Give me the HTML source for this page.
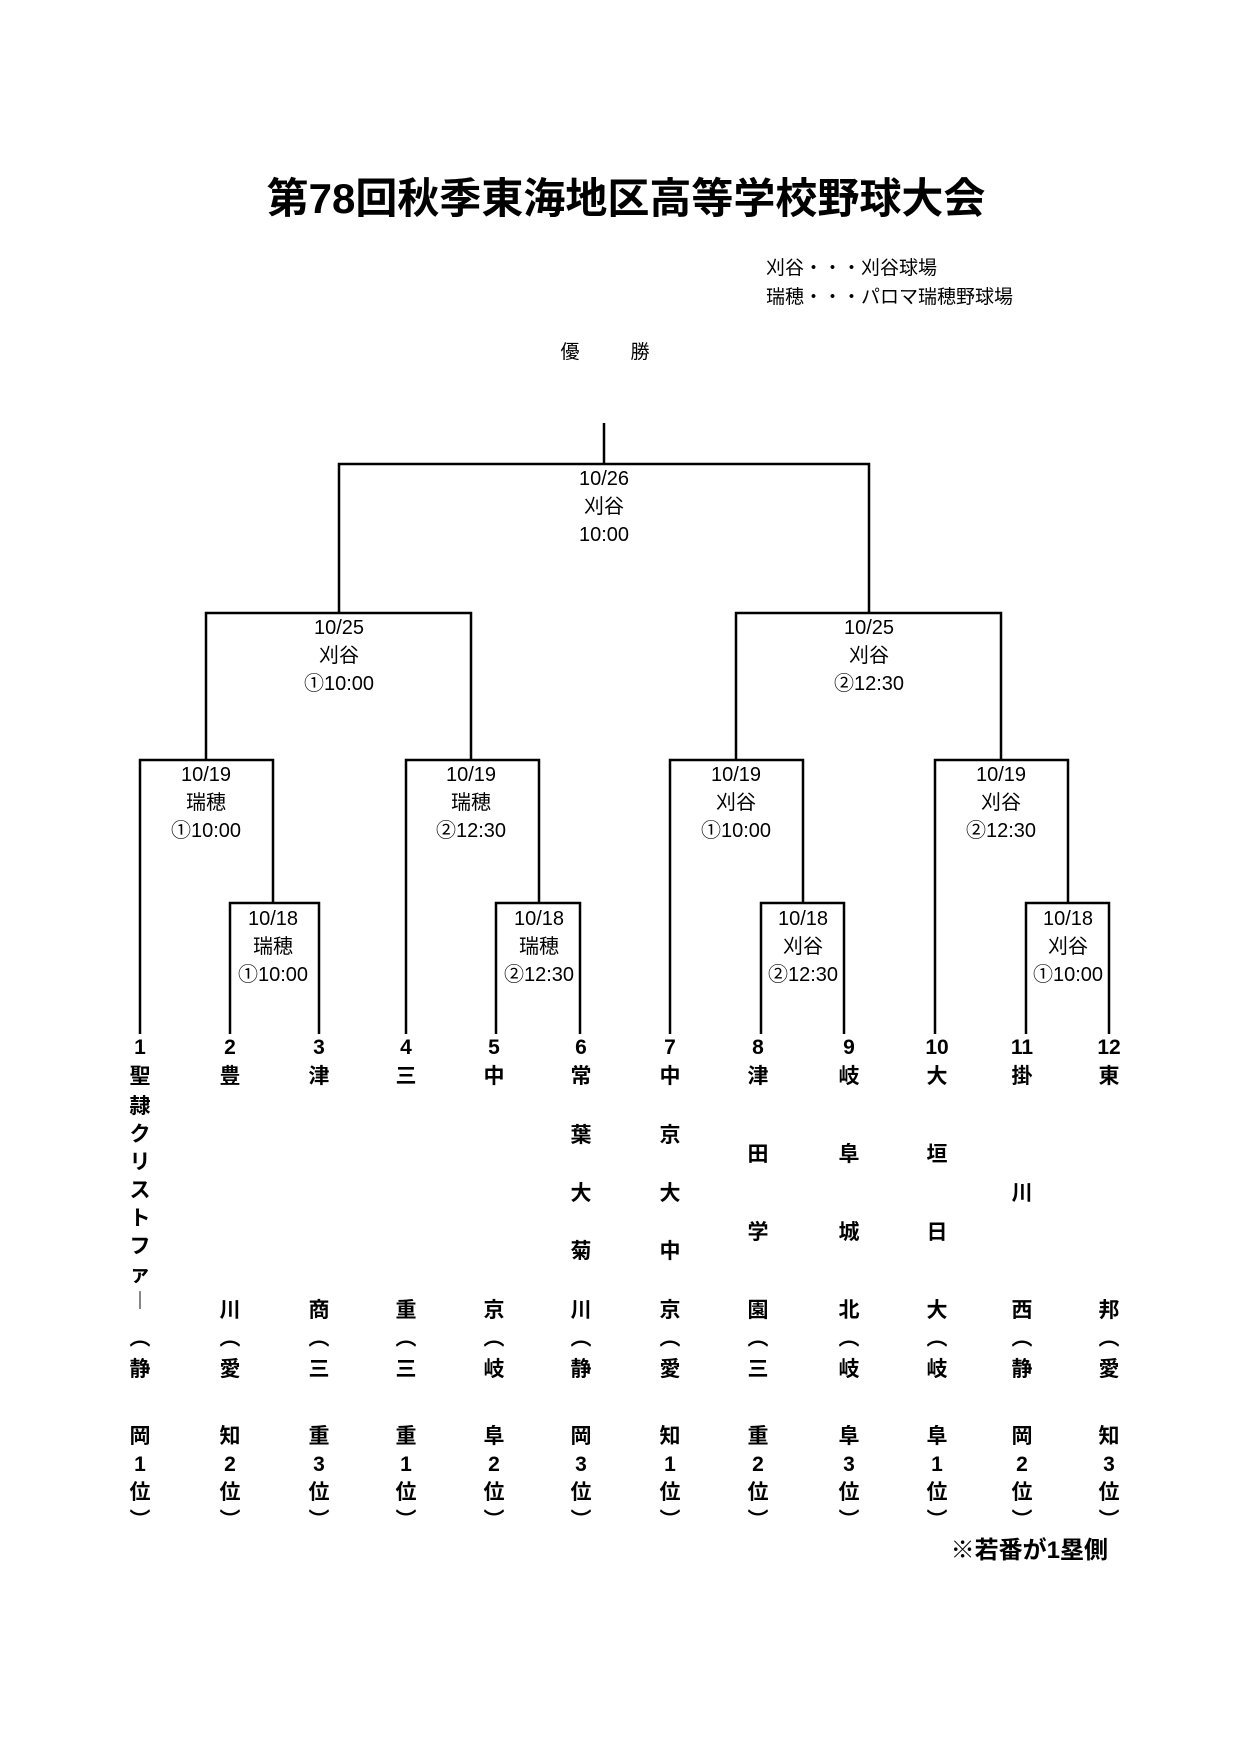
<!DOCTYPE html>
<html><head><meta charset="utf-8">
<style>
body{margin:0;background:#fff;}
#p{position:relative;width:1241px;height:1755px;overflow:hidden;font-family:"Liberation Sans","Noto Sans CJK JP",sans-serif;color:#000;}
.c{position:absolute;width:120px;margin-left:-60px;text-align:center;line-height:26px;height:26px;margin-top:-13px;font-size:20px;white-space:nowrap;}
.b{font-weight:bold;font-size:21px;}
svg{position:absolute;left:0;top:0;}
</style></head><body><div id="p">
<svg width="1241" height="1755" fill="none" stroke="#000" stroke-width="2.5">
<path d="M604 423V464M339 613V464H869V613"/>
<path d="M206 760V613H471V760M736 760V613H1001V760"/>
<path d="M140 1034V760H273V903M406 1034V760H539V903M670 1034V760H803V903M935 1034V760H1068V903"/>
<path d="M230 1034V903H319V1034M496 1034V903H580V1034M761 1034V903H844V1034M1026 1034V903H1109V1034"/>
</svg>
<div class="c" style="left:626px;top:199px;font-size:42px;font-weight:bold;line-height:50px;height:50px;margin-top:-25px;width:900px;margin-left:-450px">第78回秋季東海地区高等学校野球大会</div>
<div style="position:absolute;left:766px;top:254px;font-size:19px;line-height:29px">刈谷・・・刈谷球場<br>瑞穂・・・パロマ瑞穂野球場</div>
<div class="c" style="left:570px;top:353px;font-size:19px">優</div>
<div class="c" style="left:640px;top:353px;font-size:19px">勝</div>

<div class="c" style="left:604px;top:479px">10/26</div><div class="c" style="left:604px;top:507px">刈谷</div><div class="c" style="left:604px;top:535px">10:00</div>
<div class="c" style="left:339px;top:628px">10/25</div><div class="c" style="left:339px;top:656px">刈谷</div><div class="c" style="left:339px;top:684px">①10:00</div>
<div class="c" style="left:869px;top:628px">10/25</div><div class="c" style="left:869px;top:656px">刈谷</div><div class="c" style="left:869px;top:684px">②12:30</div>
<div class="c" style="left:206px;top:775px">10/19</div><div class="c" style="left:206px;top:803px">瑞穂</div><div class="c" style="left:206px;top:831px">①10:00</div>
<div class="c" style="left:471px;top:775px">10/19</div><div class="c" style="left:471px;top:803px">瑞穂</div><div class="c" style="left:471px;top:831px">②12:30</div>
<div class="c" style="left:736px;top:775px">10/19</div><div class="c" style="left:736px;top:803px">刈谷</div><div class="c" style="left:736px;top:831px">①10:00</div>
<div class="c" style="left:1001px;top:775px">10/19</div><div class="c" style="left:1001px;top:803px">刈谷</div><div class="c" style="left:1001px;top:831px">②12:30</div>
<div class="c" style="left:273px;top:919px">10/18</div><div class="c" style="left:273px;top:947px">瑞穂</div><div class="c" style="left:273px;top:975px">①10:00</div>
<div class="c" style="left:539px;top:919px">10/18</div><div class="c" style="left:539px;top:947px">瑞穂</div><div class="c" style="left:539px;top:975px">②12:30</div>
<div class="c" style="left:803px;top:919px">10/18</div><div class="c" style="left:803px;top:947px">刈谷</div><div class="c" style="left:803px;top:975px">②12:30</div>
<div class="c" style="left:1068px;top:919px">10/18</div><div class="c" style="left:1068px;top:947px">刈谷</div><div class="c" style="left:1068px;top:975px">①10:00</div>

<div class="c b" style="left:140px;top:1048px">1</div><div class="c b" style="left:230px;top:1048px">2</div><div class="c b" style="left:319px;top:1048px">3</div><div class="c b" style="left:406px;top:1048px">4</div><div class="c b" style="left:494px;top:1048px">5</div><div class="c b" style="left:581px;top:1048px">6</div><div class="c b" style="left:670px;top:1048px">7</div><div class="c b" style="left:758px;top:1048px">8</div><div class="c b" style="left:849px;top:1048px">9</div><div class="c b" style="left:937px;top:1048px">10</div><div class="c b" style="left:1022px;top:1048px">11</div><div class="c b" style="left:1109px;top:1048px">12</div>

<div class="c b" style="left:140px;top:1077px">聖</div><div class="c b" style="left:140px;top:1107px">隷</div><div class="c b" style="left:140px;top:1135px">ク</div><div class="c b" style="left:140px;top:1163px">リ</div><div class="c b" style="left:140px;top:1191px">ス</div><div class="c b" style="left:140px;top:1219px">ト</div><div class="c b" style="left:140px;top:1247px">フ</div><div class="c b" style="left:140px;top:1275px">ァ</div><div class="c b" style="left:140px;top:1302px">︱</div>
<div class="c b" style="left:230px;top:1077px">豊</div><div class="c b" style="left:230px;top:1311px">川</div>
<div class="c b" style="left:319px;top:1077px">津</div><div class="c b" style="left:319px;top:1311px">商</div>
<div class="c b" style="left:406px;top:1077px">三</div><div class="c b" style="left:406px;top:1311px">重</div>
<div class="c b" style="left:494px;top:1077px">中</div><div class="c b" style="left:494px;top:1311px">京</div>
<div class="c b" style="left:581px;top:1077px">常</div><div class="c b" style="left:581px;top:1136px">葉</div><div class="c b" style="left:581px;top:1194px">大</div><div class="c b" style="left:581px;top:1252px">菊</div><div class="c b" style="left:581px;top:1311px">川</div>
<div class="c b" style="left:670px;top:1077px">中</div><div class="c b" style="left:670px;top:1136px">京</div><div class="c b" style="left:670px;top:1194px">大</div><div class="c b" style="left:670px;top:1252px">中</div><div class="c b" style="left:670px;top:1311px">京</div>
<div class="c b" style="left:758px;top:1077px">津</div><div class="c b" style="left:758px;top:1155px">田</div><div class="c b" style="left:758px;top:1233px">学</div><div class="c b" style="left:758px;top:1311px">園</div>
<div class="c b" style="left:849px;top:1077px">岐</div><div class="c b" style="left:849px;top:1155px">阜</div><div class="c b" style="left:849px;top:1233px">城</div><div class="c b" style="left:849px;top:1311px">北</div>
<div class="c b" style="left:937px;top:1077px">大</div><div class="c b" style="left:937px;top:1155px">垣</div><div class="c b" style="left:937px;top:1233px">日</div><div class="c b" style="left:937px;top:1311px">大</div>
<div class="c b" style="left:1022px;top:1077px">掛</div><div class="c b" style="left:1022px;top:1194px">川</div><div class="c b" style="left:1022px;top:1311px">西</div>
<div class="c b" style="left:1109px;top:1077px">東</div><div class="c b" style="left:1109px;top:1311px">邦</div>

<div class="c b" style="left:140px;top:1339px">︵</div><div class="c b" style="left:140px;top:1370px">静</div><div class="c b" style="left:140px;top:1437px">岡</div><div class="c b" style="left:140px;top:1465px">1</div><div class="c b" style="left:140px;top:1493px">位</div><div class="c b" style="left:140px;top:1521px">︶</div>
<div class="c b" style="left:230px;top:1339px">︵</div><div class="c b" style="left:230px;top:1370px">愛</div><div class="c b" style="left:230px;top:1437px">知</div><div class="c b" style="left:230px;top:1465px">2</div><div class="c b" style="left:230px;top:1493px">位</div><div class="c b" style="left:230px;top:1521px">︶</div>
<div class="c b" style="left:319px;top:1339px">︵</div><div class="c b" style="left:319px;top:1370px">三</div><div class="c b" style="left:319px;top:1437px">重</div><div class="c b" style="left:319px;top:1465px">3</div><div class="c b" style="left:319px;top:1493px">位</div><div class="c b" style="left:319px;top:1521px">︶</div>
<div class="c b" style="left:406px;top:1339px">︵</div><div class="c b" style="left:406px;top:1370px">三</div><div class="c b" style="left:406px;top:1437px">重</div><div class="c b" style="left:406px;top:1465px">1</div><div class="c b" style="left:406px;top:1493px">位</div><div class="c b" style="left:406px;top:1521px">︶</div>
<div class="c b" style="left:494px;top:1339px">︵</div><div class="c b" style="left:494px;top:1370px">岐</div><div class="c b" style="left:494px;top:1437px">阜</div><div class="c b" style="left:494px;top:1465px">2</div><div class="c b" style="left:494px;top:1493px">位</div><div class="c b" style="left:494px;top:1521px">︶</div>
<div class="c b" style="left:581px;top:1339px">︵</div><div class="c b" style="left:581px;top:1370px">静</div><div class="c b" style="left:581px;top:1437px">岡</div><div class="c b" style="left:581px;top:1465px">3</div><div class="c b" style="left:581px;top:1493px">位</div><div class="c b" style="left:581px;top:1521px">︶</div>
<div class="c b" style="left:670px;top:1339px">︵</div><div class="c b" style="left:670px;top:1370px">愛</div><div class="c b" style="left:670px;top:1437px">知</div><div class="c b" style="left:670px;top:1465px">1</div><div class="c b" style="left:670px;top:1493px">位</div><div class="c b" style="left:670px;top:1521px">︶</div>
<div class="c b" style="left:758px;top:1339px">︵</div><div class="c b" style="left:758px;top:1370px">三</div><div class="c b" style="left:758px;top:1437px">重</div><div class="c b" style="left:758px;top:1465px">2</div><div class="c b" style="left:758px;top:1493px">位</div><div class="c b" style="left:758px;top:1521px">︶</div>
<div class="c b" style="left:849px;top:1339px">︵</div><div class="c b" style="left:849px;top:1370px">岐</div><div class="c b" style="left:849px;top:1437px">阜</div><div class="c b" style="left:849px;top:1465px">3</div><div class="c b" style="left:849px;top:1493px">位</div><div class="c b" style="left:849px;top:1521px">︶</div>
<div class="c b" style="left:937px;top:1339px">︵</div><div class="c b" style="left:937px;top:1370px">岐</div><div class="c b" style="left:937px;top:1437px">阜</div><div class="c b" style="left:937px;top:1465px">1</div><div class="c b" style="left:937px;top:1493px">位</div><div class="c b" style="left:937px;top:1521px">︶</div>
<div class="c b" style="left:1022px;top:1339px">︵</div><div class="c b" style="left:1022px;top:1370px">静</div><div class="c b" style="left:1022px;top:1437px">岡</div><div class="c b" style="left:1022px;top:1465px">2</div><div class="c b" style="left:1022px;top:1493px">位</div><div class="c b" style="left:1022px;top:1521px">︶</div>
<div class="c b" style="left:1109px;top:1339px">︵</div><div class="c b" style="left:1109px;top:1370px">愛</div><div class="c b" style="left:1109px;top:1437px">知</div><div class="c b" style="left:1109px;top:1465px">3</div><div class="c b" style="left:1109px;top:1493px">位</div><div class="c b" style="left:1109px;top:1521px">︶</div>

<div style="position:absolute;right:133px;top:1536px;font-size:24px;font-weight:bold;line-height:30px">※若番が1塁側</div>
</div></body></html>
